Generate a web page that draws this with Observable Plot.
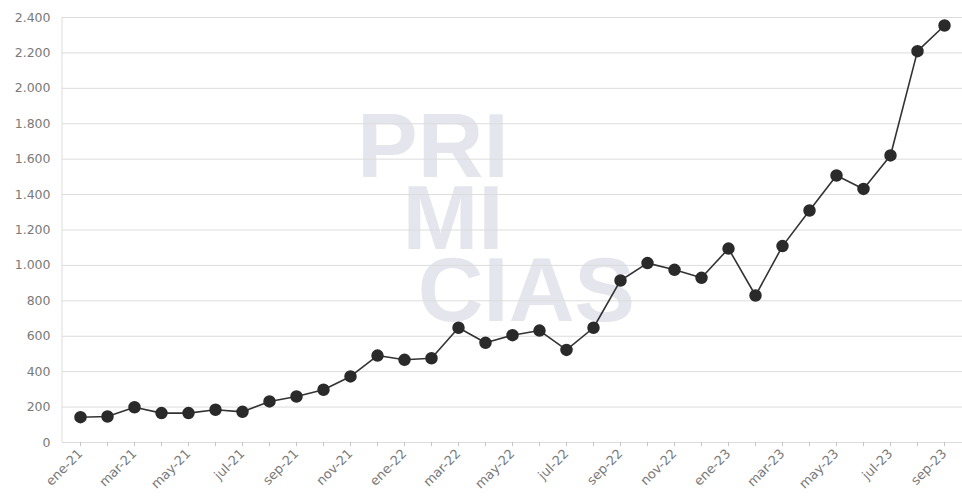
<!DOCTYPE html>
<html>
<head>
<meta charset="utf-8">
<script src="https://cdn.jsdelivr.net/npm/d3@7"></script>
<script src="https://cdn.jsdelivr.net/npm/@observablehq/plot@0.6"></script>
<style>
  body { margin: 0; background: #fff; }
  #wrap { position: relative; width: 962px; height: 497px; overflow: hidden; }
  #wm { position: absolute; left: 357px; top: 110px; color: #e5e5ed; font-family: "Liberation Sans", Arial, sans-serif; font-weight: bold; font-size: 91px; line-height: 72px; white-space: pre; }
  #chart { position: absolute; left: 0; top: 0; }
</style>
</head>
<body>
<div id="wrap">
  <div id="wm">PRI
&#x2002;MI
&#x2002;&#x2006;CIAS</div>
  <div id="chart"></div>
</div>
<script>
const months = ["ene-21","feb-21","mar-21","abr-21","may-21","jun-21","jul-21","ago-21","sep-21","oct-21","nov-21","dic-21",
                "ene-22","feb-22","mar-22","abr-22","may-22","jun-22","jul-22","ago-22","sep-22","oct-22","nov-22","dic-22",
                "ene-23","feb-23","mar-23","abr-23","may-23","jun-23","jul-23","ago-23","sep-23"];
const values = [143,147,199,166,166,185,173,232,260,298,373,491,
                467,476,648,563,606,632,523,648,915,1013,975,930,
                1095,830,1109,1310,1508,1432,1621,2210,2355];
const yTicks = [0,200,400,600,800,1000,1200,1400,1600,1800,2000,2200,2400];
const xTickLabels = months.filter((d, i) => i % 2 === 0);

const data = months.map((m, i) => ({month: m, value: values[i]}));
const fmt = d3.formatLocale({decimal: ",", thousands: ".", grouping: [3], currency: ["", ""]}).format(",d");

const leftAxisLine = (index, scales, values, dims) => {
  const g = d3.create("svg:g");
  g.append("line")
    .attr("x1", dims.marginLeft).attr("x2", dims.marginLeft)
    .attr("y1", dims.marginTop).attr("y2", dims.height - dims.marginBottom)
    .attr("stroke", "#dcdcdc");
  return g.node();
};

const chart = Plot.plot({
  width: 962,
  height: 497,
  marginLeft: 62,
  marginRight: 0,
  marginTop: 17,
  marginBottom: 55,
  style: {background: "transparent", fontFamily: "DejaVu Sans, sans-serif", fontSize: "13px", color: "#7a7a7a"},
  x: {type: "point", domain: months, padding: 0.5},
  y: {domain: [0, 2400]},
  marks: [
    Plot.gridY(yTicks, {stroke: "#dcdcdc", strokeOpacity: 1}),
    leftAxisLine,
    Plot.axisY(yTicks, {tickSize: 0, tickPadding: 12, tickFormat: fmt, label: null, fill: "#7a7a7a", fontSize: 12.5}),
    Plot.axisX(months, {tickSize: 4, tickFormat: () => "", stroke: "#c4c4c4", label: null}),
    Plot.axisX(xTickLabels, {tickSize: 0, tickPadding: 9, tickRotate: -45, label: null, fill: "#7a7a7a", fontSize: 13}),
    Plot.line(data, {x: "month", y: "value", stroke: "#333", strokeWidth: 1.6}),
    Plot.dot(data, {x: "month", y: "value", r: 5.5, fill: "#2a2a2a", stroke: "#2a2a2a"})
  ]
});
document.getElementById("chart").appendChild(chart);
</script>
</body>
</html>
